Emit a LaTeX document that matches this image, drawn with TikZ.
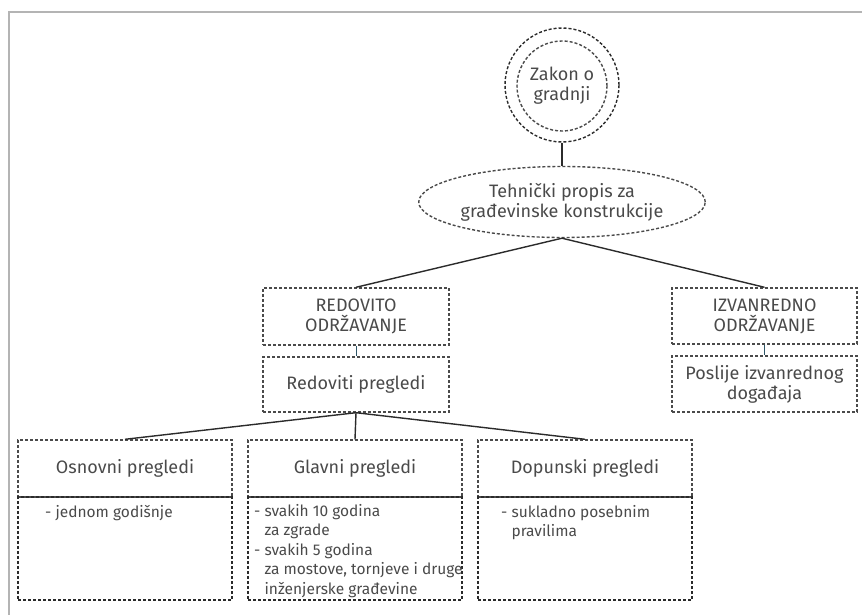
\documentclass[tikz,border=0pt]{standalone}
\usepackage{fontspec}
\setmainfont{Fira Sans}
\usetikzlibrary{shapes.geometric}
\definecolor{txtgrey}{HTML}{4A4A4A}
\definecolor{linegrey}{HTML}{2B2B2B}
\definecolor{framegrey}{HTML}{B4B4B4}
\definecolor{tealline}{HTML}{2E5566}
\tikzset{
  box/.style = {draw = linegrey, dash pattern = on 3pt off 2pt, line width = 1.4pt,
                rectangle, minimum width = #1, align = center, inner sep = 0pt},
  ring/.style = {draw = linegrey, dash pattern = on 3pt off 2pt, line width = 1.4pt,
                 circle, minimum size = #1, inner sep = 0pt},
  link/.style = {draw = #1, line width = 1.4pt},
  label/.style = {txtgrey, font = \fontsize{18}{20}\selectfont, align = center},
  item/.style = {txtgrey, font = \fontsize{15.5}{19.5}\selectfont, align = left, anchor = north west, inner sep = 0pt},
}
\begin{document}
\begin{tikzpicture}[x=1pt,y=-1pt]
  \useasboundingbox (0,0) rectangle (862,615);
% frame
  \draw[framegrey, line width = 1.5pt] (8,12) -- (862,12);
  \draw[framegrey, line width = 1.5pt] (9,12) -- (9,615);
% law and regulation
  \node[ring=114pt] (zakonout) at (562,85) {};
  \node[ring=90pt, label] (zakon) at (562,86) {Zakon o\\gradnji};
  \node[draw = linegrey, dash pattern = on 3pt off 2pt, line width = 1.4pt, ellipse,
        minimum width = 240pt, minimum height = 71pt, inner sep = 0pt, label] (propis) at (562,202)
        {Tehnički propis za\\građevinske konstrukcije};
% maintenance
  \node[box=186pt, minimum height = 57pt, label] (redovito) at (356,316.5) {REDOVITO\\ODRŽAVANJE};
  \node[box=186pt, minimum height = 55pt, label] (pregledi) at (356,384.5) {Redoviti pregledi};
  \node[box=185pt, minimum height = 56pt, label] (izvanredno) at (764.5,316) {IZVANREDNO\\ODRŽAVANJE};
  \node[box=185pt, minimum height = 56pt, label] (poslije) at (764.5,384) {Poslije izvanrednog\\događaja};
% inspections
  \foreach \name/\title/\xi in {osnovni/Osnovni pregledi/125,glavni/Glavni pregledi/355,dopunski/Dopunski pregledi/585}{
    \node[box=214pt, minimum height = 57pt, label] (\name) at (\xi,468.5) {\title};
    \node[box=214pt, minimum height = 103pt] (\name body) at (\xi,548.5) {};
  }
  \node[item] (osnovnitxt) at (45,505) {- jednom godišnje};
  \node[item] (glavnitxt) at (254,504) {- svakih 10 godina\\\phantom{- }za zgrade\\- svakih 5 godina\\\phantom{- }za mostove, tornjeve i druge\\\phantom{- }inženjerske građevine};
  \node[item] (dopunskitxt) at (501,505) {- sukladno posebnim\\\phantom{- }pravilima};
% connectors
  \draw[link=linegrey] (zakonout.south) -- (propis.north);
  \draw[link=linegrey] (propis.south) -- (redovito.north);
  \draw[link=linegrey] (propis.south) -- (izvanredno.north);
  \draw[link=tealline, line width = 1pt] (redovito.south) -- (pregledi.north);
  \draw[link=tealline, line width = 1pt] (izvanredno.south) -- (poslije.north);
  \foreach \name in {osnovni,glavni,dopunski}{
    \draw[link=linegrey] (pregledi.south) -- (\name.north);
  }
\end{tikzpicture}
\end{document}
